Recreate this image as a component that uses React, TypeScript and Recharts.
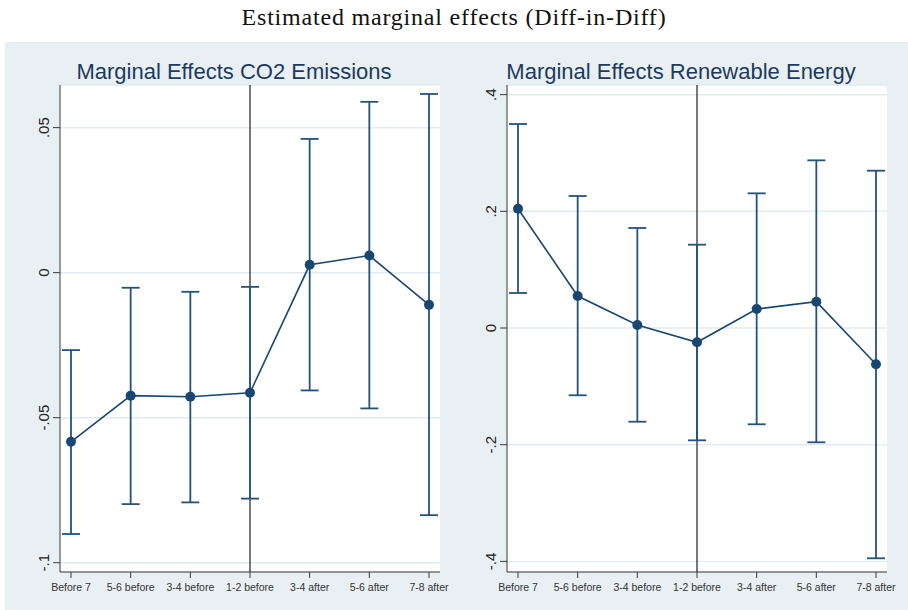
import React from 'react';
import {
  LineChart,
  Line,
  XAxis,
  YAxis,
  CartesianGrid,
  ErrorBar,
  ReferenceLine,
} from 'recharts';

const categories = [
  'Before 7',
  '5-6 before',
  '3-4 before',
  '1-2 before',
  '3-4 after',
  '5-6 after',
  '7-8 after',
];

// CO2 emissions: point estimates and 95% CI bounds
const co2Est = [-0.0583, -0.0424, -0.0428, -0.0414, 0.0027, 0.0059, -0.0111];
const co2Low = [-0.0901, -0.0798, -0.0792, -0.0779, -0.0406, -0.0468, -0.0836];
const co2High = [-0.0267, -0.0052, -0.0066, -0.0049, 0.0461, 0.0589, 0.0616];
const co2Ticks = [-0.1, -0.05, 0, 0.05];

// Renewable energy
const renEst = [0.2045, 0.0548, 0.0051, -0.0245, 0.0326, 0.0451, -0.0622];
const renLow = [0.06, -0.1153, -0.1606, -0.1925, -0.165, -0.1959, -0.3947];
const renHigh = [0.3496, 0.2262, 0.1714, 0.1428, 0.2308, 0.2874, 0.2696];
const renTicks = [-0.4, -0.2, 0, 0.2, 0.4];

const NAVY = '#1a476f';
const BG = '#e9f0f3';
const SANS = "'Liberation Sans', Arial, sans-serif";

const buildRows = (est: number[], low: number[], high: number[]) =>
  categories.map((c, i) => ({
    cat: c,
    est: est[i],
    err: [est[i] - low[i], high[i] - est[i]],
  }));

// Stata style numbers: .05, -.1, 0
const stataFmt = (v: number) => {
  if (v === 0) return '0';
  const s = String(Math.round(v * 1000) / 1000);
  return s.replace('0.', '.');
};

const YTick = (props: any) => {
  const { x, y, payload } = props;
  return (
    <text
      transform={`translate(${x - 2}, ${y}) rotate(-90)`}
      textAnchor="middle"
      fontSize={15}
      fontFamily={SANS}
      fill="#222"
    >
      {stataFmt(payload.value)}
    </text>
  );
};

interface PanelProps {
  title: string;
  est: number[];
  low: number[];
  high: number[];
  ticks: number[];
  domain: [number, number];
  left: number;
}

function Panel({ title, est, low, high, ticks, domain, left }: PanelProps) {
  const rows = buildRows(est, low, high);
  return (
    <div style={{ position: 'absolute', left, top: 0, width: 460, height: 610 }}>
      <div
        style={{
          position: 'absolute',
          left: 0,
          width: 460,
          top: 58,
          textAlign: 'center',
          fontFamily: SANS,
          fontSize: 22,
          color: '#1c3a5e',
          lineHeight: '28px',
          paddingLeft: 8,
          boxSizing: 'border-box',
        }}
      >
        {title}
      </div>
      <LineChart
        width={460}
        height={610}
        data={rows}
        margin={{ top: 85, right: 20, bottom: 8, left: 0 }}
        style={{ position: 'absolute', left: 0, top: 0 }}
      >
        <CartesianGrid vertical={false} fill="#ffffff" stroke="#e2ebef" strokeWidth={1.5} />
        <XAxis
          dataKey="cat"
          height={30}
          padding={{ left: 11, right: 11 }}
          tick={{ fontSize: 10.5, fill: '#333', fontFamily: SANS }}
          tickSize={6}
          tickMargin={6}
          interval={0}
          stroke="#3a3a3a"
          tickLine={{ stroke: '#3a3a3a' }}
        />
        <YAxis
          width={60}
          type="number"
          domain={domain}
          ticks={ticks}
          allowDataOverflow
          tick={<YTick />}
          tickSize={7}
          tickMargin={2}
          stroke="#3a3a3a"
          tickLine={{ stroke: '#3a3a3a' }}
        />
        <ReferenceLine x="1-2 before" stroke="#1e1e1e" strokeWidth={1.2} />
        <Line
          type="linear"
          dataKey="est"
          stroke={NAVY}
          strokeWidth={1.6}
          dot={{ r: 5, fill: NAVY, stroke: NAVY, strokeWidth: 0 }}
          activeDot={false}
          isAnimationActive={false}
        >
          <ErrorBar dataKey="err" width={9} stroke="#24527a" strokeWidth={1.8} direction="y" />
        </Line>
      </LineChart>
    </div>
  );
}

export default function App() {
  return (
    <div style={{ position: 'absolute', left: 0, top: 0, width: 908, height: 610, background: '#fff', overflow: 'hidden' }}>
      <div
        style={{
          position: 'absolute',
          left: 0,
          top: 3,
          width: 908,
          textAlign: 'center',
          fontFamily: "'Liberation Serif', 'Times New Roman', serif",
          fontSize: 24,
          letterSpacing: 0.8,
          color: '#111',
          lineHeight: '28px',
        }}
      >
        Estimated marginal effects (Diff-in-Diff)
      </div>
      <div style={{ position: 'absolute', left: 5, top: 42, width: 903, height: 568, background: BG }} />
      <Panel
        title="Marginal Effects CO2 Emissions"
        est={co2Est}
        low={co2Low}
        high={co2High}
        ticks={co2Ticks}
        domain={[-0.1032, 0.0647]}
        left={0}
      />
      <Panel
        title="Marginal Effects Renewable Energy"
        est={renEst}
        low={renLow}
        high={renHigh}
        ticks={renTicks}
        domain={[-0.4182, 0.4165]}
        left={447}
      />
    </div>
  );
}
